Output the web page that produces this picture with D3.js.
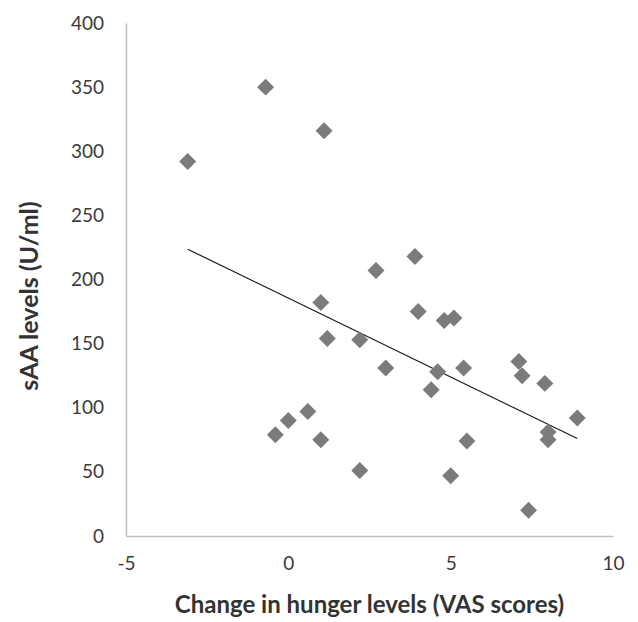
<!DOCTYPE html>
<html>
<head>
  <meta charset="utf-8">
  <title>sAA vs hunger</title>
  <script src="https://cdn.jsdelivr.net/npm/d3@7"></script>
  <style>
    body { margin: 0; background: #fff; }
    .tick text { font-family: Lato, sans-serif; font-size: 19px; fill: #3a3a3a; }
    .title { font-family: Lato, sans-serif; font-size: 24px; font-weight: bold; fill: #333; }
    .ytitle { font-size: 25px; }
  </style>
</head>
<body>
<div class="chart"></div>
<script>
  // change in hunger (VAS) vs sAA (U/ml)
  var hungerChange = [-3.1, -0.7, 1.1, 2.7, 3.9, 1.0, 4.0, 4.8, 5.1, 1.2, 2.2, 3.0, 4.6, 5.4, 4.4,
                      7.1, 7.2, 7.9, 8.9, 8.0, 8.0, 5.5, 2.2, 5.0, 7.4, -0.4, 0.0, 0.6, 1.0];
  var saaLevels = [292, 350, 316, 207, 218, 182, 175, 168, 170, 154, 153, 131, 128, 131, 114,
                   136, 125, 119, 92, 81, 75, 74, 51, 47, 20, 79, 90, 97, 75];
  var xTicks = [-5, 0, 5, 10];
  var yTicks = [0, 50, 100, 150, 200, 250, 300, 350, 400];

  var width = 638, height = 622;
  var margin = { top: 23, left: 126, right: 25, bottom: 86 };

  var svg = d3.select('.chart').append('svg')
    .attr('width', width).attr('height', height);

  var x = d3.scaleLinear().domain([-5, 10]).range([margin.left, width - margin.right]);
  var y = d3.scaleLinear().domain([0, 400]).range([height - margin.bottom, margin.top]);

  var xAxis = svg.append('g')
    .attr('transform', 'translate(0,' + y(0) + ')')
    .call(d3.axisBottom(x).tickValues(xTicks).tickSize(0).tickPadding(21)
      .tickFormat(function (d) { return String(d); }));
  xAxis.select('.domain').attr('stroke', '#bfbfbf').attr('stroke-width', 1.5);

  var yAxis = svg.append('g')
    .attr('transform', 'translate(' + x(-5) + ',0)')
    .call(d3.axisLeft(y).tickValues(yTicks).tickSize(0).tickPadding(22));
  yAxis.select('.domain').attr('stroke', '#bfbfbf').attr('stroke-width', 1.5);

  var points = hungerChange.map(function (d, i) { return [d, saaLevels[i]]; });

  // least squares trend line
  var mx = d3.mean(hungerChange), my = d3.mean(saaLevels);
  var sxy = d3.sum(points, function (p) { return (p[0] - mx) * (p[1] - my); });
  var sxx = d3.sum(points, function (p) { return (p[0] - mx) * (p[0] - mx); });
  var slope = sxy / sxx, icpt = my - slope * mx;
  var xr = d3.extent(hungerChange);

  svg.append('line')
    .attr('x1', x(xr[0])).attr('y1', y(icpt + slope * xr[0]))
    .attr('x2', x(xr[1])).attr('y2', y(icpt + slope * xr[1]))
    .attr('stroke', '#1a1a1a').attr('stroke-width', 1.2);

  var diamond = d3.symbol().type(d3.symbolSquare).size(144);
  svg.append('g').selectAll('path')
    .data(points).enter().append('path')
      .attr('d', diamond)
      .attr('transform', function (d) {
        return 'translate(' + x(d[0]) + ',' + y(d[1]) + ') rotate(45)';
      })
      .attr('fill', '#7b7b7e');

  svg.append('text').attr('class', 'title')
    .attr('x', (x(-5) + x(10)) / 2).attr('y', 613).attr('text-anchor', 'middle')
    .text('Change in hunger levels (VAS scores)');

  svg.append('text').attr('class', 'title ytitle')
    .attr('transform', 'translate(38,296) rotate(-90)').attr('text-anchor', 'middle')
    .text('sAA levels (U/ml)');
</script>
</body>
</html>
